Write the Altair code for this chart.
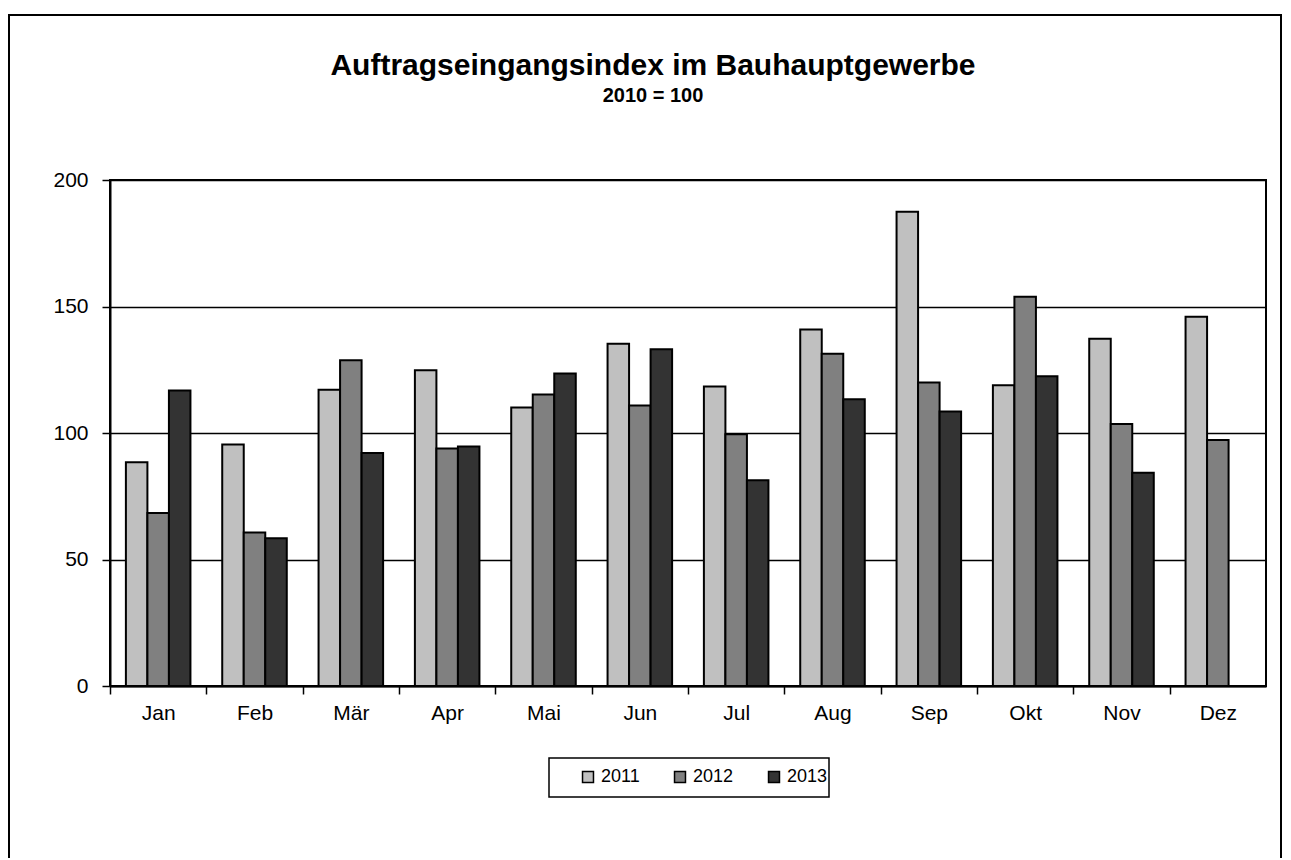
import altair as alt
import pandas as pd

months = ["Jan", "Feb", "Mär", "Apr", "Mai", "Jun", "Jul", "Aug", "Sep", "Okt", "Nov", "Dez"]
years = ["2011", "2012", "2013"]
v2011 = [88.4, 95.5, 117.1, 124.8, 110.1, 135.3, 118.4, 140.9, 187.5, 118.9, 137.3, 145.9]
v2012 = [68.4, 60.7, 128.8, 93.9, 115.2, 110.9, 99.5, 131.3, 120.0, 153.9, 103.6, 97.2]
v2013 = [116.8, 58.4, 92.1, 94.7, 123.5, 133.1, 81.3, 113.3, 108.5, 122.4, 84.3, None]
colors = ["#C0C0C0", "#808080", "#333333"]
y_ticks = [0, 50, 100, 150, 200]

rows = []
for yr, vals in zip(years, [v2011, v2012, v2013]):
    for m, v in zip(months, vals):
        if v is not None:
            rows.append({"Monat": m, "Jahr": yr, "Wert": v})
df = pd.DataFrame(rows)

FONT = "Liberation Sans"
W, H = 1156, 506
STEP = W / len(months)

bars = alt.Chart(df).mark_bar(stroke="black", strokeWidth=2).encode(
    x=alt.X("Monat:N", sort=months,
            scale=alt.Scale(domain=months, paddingInner=0.33, paddingOuter=0.165),
            axis=alt.Axis(title=None, labelAngle=0, labelFontSize=21,
                          labelPadding=8, tickSize=8, grid=False,
                          tickOffset=-STEP / 2, labelOffset=STEP / 2)),
    xOffset=alt.XOffset("Jahr:N", scale=alt.Scale(domain=years, paddingInner=0, paddingOuter=0)),
    y=alt.Y("Wert:Q", scale=alt.Scale(domain=[0, 200], nice=False),
            axis=alt.Axis(title=None, values=y_ticks, labelFontSize=21, labelPadding=14,
                          tickSize=8, grid=True, gridColor="black", gridWidth=1.5,
                          gridOpacity=1)),
    color=alt.Color("Jahr:N", scale=alt.Scale(domain=years, range=colors),
                    legend=alt.Legend(title=None, orient="none", direction="horizontal",
                                      legendX=469, legendY=588, symbolType="square",
                                      symbolSize=120, symbolStrokeColor="black",
                                      symbolStrokeWidth=1.5, labelFontSize=18,
                                      labelOffset=4, columnPadding=31, padding=0,
                                      labelFont=FONT, labelColor="black")),
)

frame = alt.Chart(pd.DataFrame({"a": [0]})).mark_rect(
    fill="transparent", stroke="black", strokeWidth=2
).encode(
    x=alt.value(-101), x2=alt.value(1171), y=alt.value(-165), y2=alt.value(720)
)

legend_box = alt.Chart(pd.DataFrame({"a": [0]})).mark_rect(
    fill="transparent", stroke="black", strokeWidth=1.5
).encode(
    x=alt.value(439), x2=alt.value(719), y=alt.value(578), y2=alt.value(617)
)

chart = alt.layer(frame, legend_box, bars).properties(
    width=W,
    height=H,
    title=alt.Title("Auftragseingangsindex im Bauhauptgewerbe", subtitle="2010 = 100",
                    fontSize=30, subtitleFontSize=20, fontWeight="bold",
                    subtitleFontWeight="bold", font=FONT, subtitleFont=FONT,
                    color="black", subtitleColor="black", anchor="middle",
                    frame="bounds", dx=8, offset=-92, subtitlePadding=5),
    autosize=alt.AutoSizeParams(type="none"),
    padding={"left": 102, "top": 172, "right": 17, "bottom": 172},
).configure_view(
    stroke="black", strokeWidth=2
).configure_axis(
    domainColor="black", domainWidth=2, tickColor="black", tickWidth=1.5,
    labelColor="black", labelFont=FONT
)

chart.save("out.html", embed_options={"renderer": "svg", "actions": False})
